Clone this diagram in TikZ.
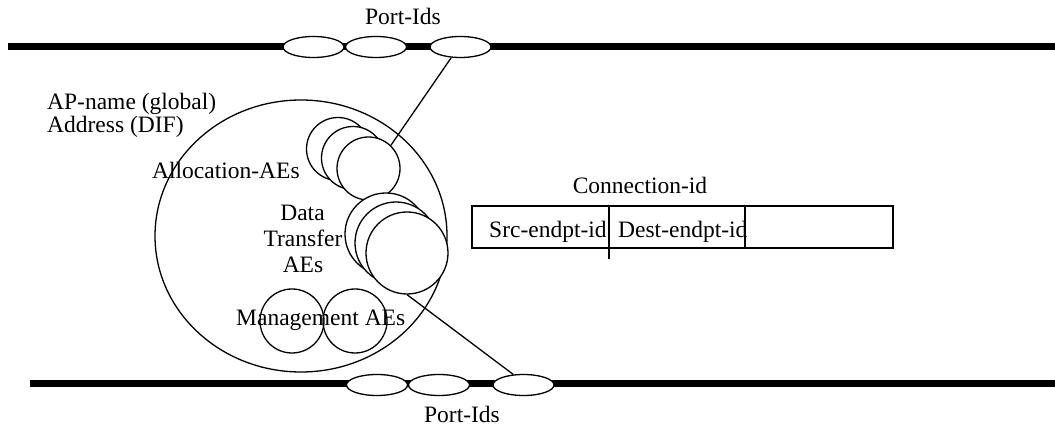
\documentclass[tikz,border=0pt]{standalone}
\usepackage{fontspec}
\setmainfont{Liberation Serif}
\usetikzlibrary{shapes.geometric}
\begin{document}
\begin{tikzpicture}[x=1pt,y=-1pt,
  thin line/.style={line width=1.3pt},
  rail/.style={line width=7pt},
  portid/.style={ellipse,draw,thin line,fill=white,minimum width=61pt,minimum height=21pt,inner sep=0pt},
  allocae/.style={circle,draw,thin line,fill=white,minimum size=63pt,inner sep=0pt},
  dtae/.style={circle,draw,thin line,fill=white,minimum size=82pt,inner sep=0pt},
  mgmtae/.style={circle,draw,thin line,minimum size=64pt,inner sep=0pt},
  lbl/.style={font=\fontsize{23.5pt}{26pt}\selectfont,inner sep=0pt}]
\useasboundingbox (0,0) rectangle (1055,427);
% rails
\coordinate (tl) at (8,47);
\coordinate (tr) at (1055,47);
\coordinate (bl) at (30,384);
\coordinate (br) at (1055,384);
\draw[rail] (tl) -- (tr);
\draw[rail] (bl) -- (br);
% port ids
\node[portid] (pt1) at (313.5,47) {};
\node[portid] (pt2) at (376,47) {};
\node[portid] (pt3) at (460.5,47) {};
\node[portid] (pb1) at (377,385) {};
\node[portid] (pb2) at (439,385) {};
\node[portid] (pb3) at (523.5,385) {};
% big ellipse
\node[ellipse,draw,thin line,minimum width=292pt,minimum height=272pt,inner sep=0pt] (ap) at (301,236) {};
% allocation AEs
\node[allocae] (al1) at (338,149) {};
\node[allocae] (al2) at (353,158) {};
\node[allocae] (al3) at (368.5,168.5) {};
% data transfer AEs
\node[dtae] (dt1) at (386,234) {};
\node[dtae] (dt2) at (396,243) {};
\node[dtae] (dt3) at (407,253) {};
% management AEs
\node[mgmtae] (mg1) at (292,321) {};
\node[mgmtae] (mg2) at (355,321) {};
% connectors
\draw[thin line] (pt3.229) -- (al3.46);
\draw[thin line] (dt3.south) -- (pb3.134);
% labels
\node[lbl,anchor=base] (ptop) at (403,25) {Port-Ids};
\node[lbl,anchor=base] (pbot) at (462,422) {Port-Ids};
\node[lbl,anchor=base west] (apn) at (47,110) {AP-name (global)};
\node[lbl,anchor=base west] (adr) at (47,133) {Address (DIF)};
\node[lbl,anchor=base west] (allt) at (152,179) {Allocation-AEs};
\node[lbl,anchor=base] (dtl1) at (302.5,221) {Data};
\node[lbl,anchor=base] (dtl2) at (303,247) {Transfer};
\node[lbl,anchor=base] (dtl3) at (303,273) {AEs};
\node[lbl,anchor=base west] (mgl) at (236,326) {Management AEs};
% connection id
\node[lbl,anchor=base] (cid) at (640,194) {Connection-id};
\node[draw,thin line,minimum width=421pt,minimum height=42pt,inner sep=0pt] (box) at (682.5,227) {};
\coordinate (d1t) at (609,206);
\coordinate (d1b) at (609,259);
\coordinate (d2t) at (745,206);
\coordinate (d2b) at (745,248);
\draw[thin line] (d1t) -- (d1b);
\draw[thin line] (d2t) -- (d2b);
\node[lbl,anchor=base west] (src) at (489,238) {Src-endpt-id};
\node[lbl,anchor=base west] (dst) at (618,238) {Dest-endpt-id};
\end{tikzpicture}
\end{document}
